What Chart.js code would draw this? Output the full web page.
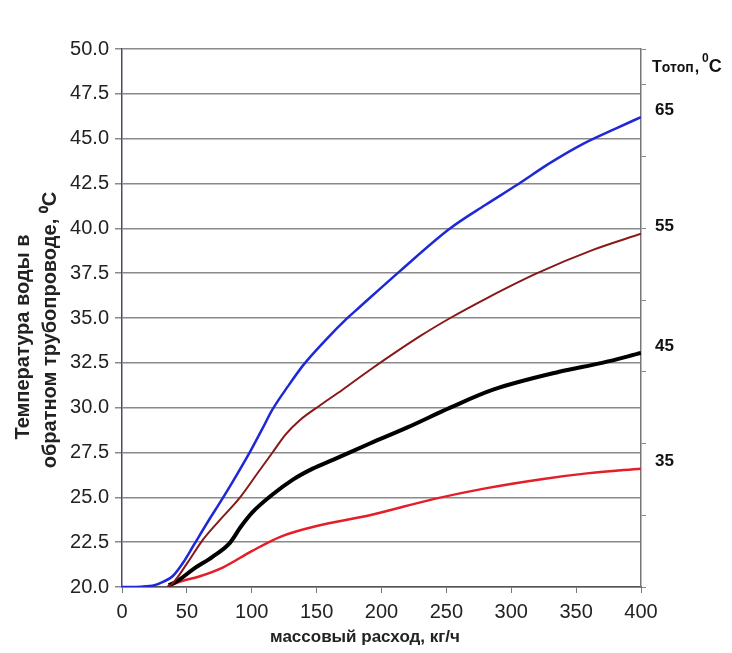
<!DOCTYPE html>
<html>
<head>
<meta charset="utf-8">
<script src="https://cdn.jsdelivr.net/npm/chart.js@4.4.1/dist/chart.umd.min.js"></script>
<style>
    html, body { margin: 0; padding: 0; background: #fff; }
    #wrap { width: 732px; height: 653px; }
</style>
</head>
<body>
<div id="wrap"><canvas id="chart"></canvas></div>
<script>
// --- Data (x: mass flow kg/h, y: return water temp, °C) ---
const flow65 = [0, 15, 25, 32, 39, 47, 55, 65, 78, 88, 98, 108, 116, 128, 140, 156, 173, 183, 214, 253, 280, 304, 330, 355, 380, 400];
const temp65 = [20.0, 20.02, 20.1, 20.3, 20.6, 21.35, 22.3, 23.5, 25.0, 26.2, 27.45, 28.8, 29.9, 31.2, 32.4, 33.7, 34.95, 35.6, 37.6, 40.0, 41.3, 42.4, 43.65, 44.7, 45.55, 46.2];

const flow55 = [35, 39, 50, 62, 75, 91, 104, 116, 126, 137, 153, 170, 191, 230, 253, 281, 320, 363, 400];
const temp55 = [20.0, 20.2, 21.3, 22.6, 23.7, 25.0, 26.3, 27.5, 28.5, 29.3, 30.15, 31.0, 32.1, 34.0, 35.0, 36.1, 37.5, 38.8, 39.7];

const flow45 = [36, 42, 55, 70, 83, 92, 101, 115, 132, 147, 163, 191, 220, 253, 286, 337, 370, 400];
const temp45 = [20.1, 20.3, 21.0, 21.7, 22.45, 23.4, 24.2, 25.1, 26.0, 26.6, 27.1, 28.0, 28.9, 30.0, 31.0, 32.0, 32.5, 33.05];

const flow35 = [35, 45, 60, 78, 100, 122, 150, 191, 240, 280, 322, 360, 400];
const temp35 = [20.0, 20.3, 20.6, 21.1, 22.0, 22.8, 23.4, 24.0, 24.9, 25.5, 26.0, 26.35, 26.6];

const seriesLabels = ['65', '55', '45', '35'];
const xTitle = 'массовый расход, кг/ч';
const yTitle = ['Температура воды в', 'обратном трубопроводе, ⁰C'];

const FONT = '"Liberation Sans", Arial, sans-serif';
const toPoints = (xs, ys) => xs.map((x, i) => ({ x, y: ys[i] }));

// --- Text drawn outside the plot: curve labels, right header, axis titles ---
const textPlugin = {
    id: 'textPlugin',
    afterDraw(chart) {
        const { ctx, chartArea, scales } = chart;
        ctx.save();
        ctx.fillStyle = '#111';
        ctx.textBaseline = 'middle';
        ctx.font = `bold 17px ${FONT}`;
        chart.data.datasets.forEach(ds => {
            const last = ds.data[ds.data.length - 1];
            ctx.fillText(ds.label, chartArea.right + 14, scales.y.getPixelForValue(last.y) - 7);
        });

        // header "Tотоп, 0C"
        ctx.textBaseline = 'alphabetic';
        let x = chartArea.right + 11;
        const base = 72;
        const parts = [
            ['T', 16, 0, 0], ['отоп', 14, 0, 1], [',', 16, 0, 3], ['0', 12, -10, 0], ['C', 18, 0, 0]
        ];
        parts.forEach(([t, size, dy, gap]) => {
            ctx.font = `bold ${size}px ${FONT}`;
            ctx.fillText(t, x, base + dy);
            x += ctx.measureText(t).width + gap;
        });

        // x axis title
        ctx.font = `bold 17px ${FONT}`;
        ctx.textAlign = 'center';
        ctx.fillStyle = '#222';
        ctx.fillText(xTitle, 365, 642);

        // y axis title (two rotated lines)
        ctx.save();
        ctx.translate(0, 0);
        ctx.rotate(-Math.PI / 2);
        ctx.font = `bold 20px ${FONT}`;
        ctx.textBaseline = 'middle';
        ctx.fillText(yTitle[0], -337, 23);
        ctx.fillText(yTitle[1], -330, 50);
        ctx.restore();
        ctx.restore();
    }
};

const ctx = document.getElementById('chart').getContext('2d');
new Chart(ctx, {
    type: 'line',
    data: {
        datasets: [
            { label: seriesLabels[0], data: toPoints(flow65, temp65), borderColor: 'rgb(30,40,215)', borderWidth: 2.5 },
            { label: seriesLabels[1], data: toPoints(flow55, temp55), borderColor: 'rgb(135,25,25)', borderWidth: 2 },
            { label: seriesLabels[2], data: toPoints(flow45, temp45), borderColor: '#000', borderWidth: 4 },
            { label: seriesLabels[3], data: toPoints(flow35, temp35), borderColor: 'rgb(228,30,40)', borderWidth: 2.5 }
        ]
    },
    options: {
        responsive: true,
        maintainAspectRatio: false,
        animation: false,
        layout: { padding: { top: 49, left: 0, right: 0, bottom: 0 } },
        elements: {
            point: { radius: 0 },
            line: { cubicInterpolationMode: 'monotone', fill: false }
        },
        plugins: {
            legend: { display: false },
            tooltip: { enabled: false }
        },
        scales: {
            x: {
                type: 'linear',
                min: 0,
                max: 400,
                afterFit: s => { s.height = 66; },
                grid: { drawOnChartArea: false, drawTicks: true, tickLength: 6, color: '#777' },
                border: { display: true, color: '#555', width: 1.5 },
                ticks: { stepSize: 50, color: '#222', padding: 7, font: { family: FONT, size: 20 } }
            },
            y: {
                min: 20,
                max: 50,
                afterFit: s => { s.width = 122; },
                grid: { color: '#8a8a8a', lineWidth: 1.5, tickLength: 7 },
                border: { display: true, color: '#4a4a66', width: 1.5 },
                ticks: {
                    stepSize: 2.5,
                    color: '#222',
                    padding: 6,
                    font: { family: FONT, size: 20 },
                    callback: v => v.toFixed(1)
                }
            },
            y2: {
                position: 'right',
                min: 20,
                max: 50,
                afterFit: s => { s.width = 91; },
                grid: { drawOnChartArea: false, drawTicks: true, tickLength: 5, color: '#888' },
                border: { display: true, color: '#777', width: 1.5 },
                ticks: { stepSize: 4, callback: () => '' }
            }
        }
    },
    plugins: [textPlugin]
});
</script>
</body>
</html>
